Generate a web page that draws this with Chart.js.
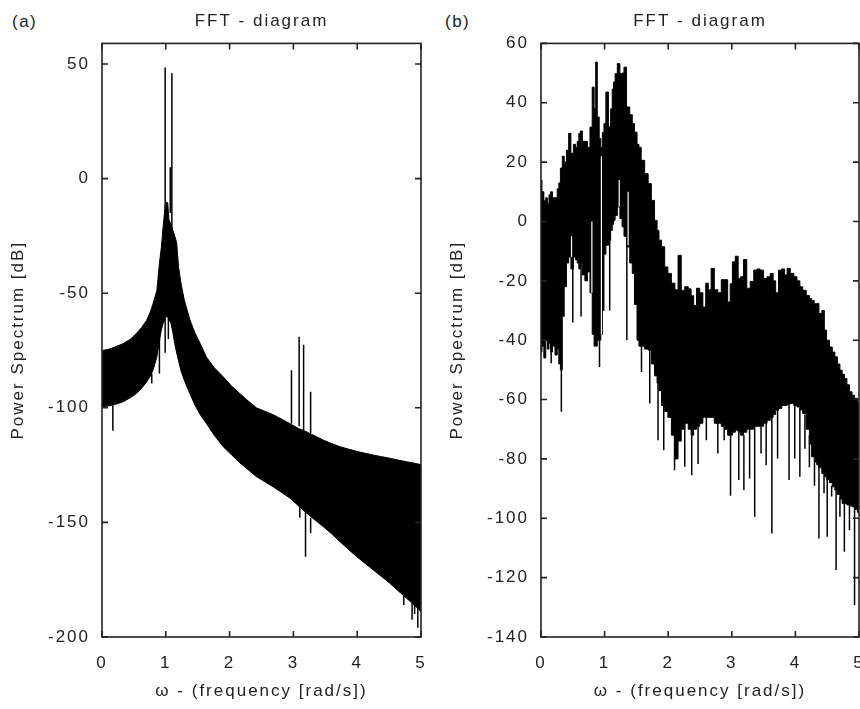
<!DOCTYPE html>
<html><head><meta charset="utf-8">
<script src="https://cdn.jsdelivr.net/npm/chart.js@4.4.1/dist/chart.umd.min.js"></script>
<style>
html,body{margin:0;padding:0;background:#fff;}
body{width:860px;height:709px;overflow:hidden;position:relative;}
canvas{position:absolute;top:0;}
.lbl{position:absolute;top:12px;font:17px "Liberation Sans",Arial,sans-serif;color:#222;letter-spacing:1.5px;line-height:20px;}
</style></head><body>
<div class="lbl" style="left:12px">(a)</div>
<div class="lbl" style="left:445px">(b)</div>
<canvas id="ca" width="430" height="709" style="left:0"></canvas>
<canvas id="cb" width="450" height="709" style="left:430px"></canvas>
<script>
// ---------- shared ----------
const xTicks = [0, 1, 2, 3, 4, 5];
const yTicksA = [-200, -150, -100, -50, 0, 50];
const yTicksB = [-140, -120, -100, -80, -60, -40, -20, 0, 20, 40, 60];

// ---------- panel (a) ----------
const freqA = [0, 0.1, 0.2, 0.33, 0.45, 0.54, 0.62, 0.7, 0.76, 0.8, 0.86, 0.9, 0.93, 0.96, 0.99, 1.01, 1.03, 1.05, 1.08, 1.11, 1.14, 1.17, 1.2, 1.24, 1.29, 1.38, 1.46, 1.54, 1.64, 1.76, 1.9, 2.03, 2.16, 2.29, 2.42, 2.55, 2.68, 2.82, 2.95, 3.08, 3.21, 3.34, 3.47, 3.6, 3.73, 3.86, 3.99, 4.12, 4.25, 4.38, 4.51, 4.64, 4.77, 4.9, 5.0];
const upperA = [-75, -74.5, -73.5, -72, -70, -67.5, -65, -61.8, -58, -54.6, -48.8, -37, -30, -20.5, -12, -10.3, -10.5, -18, -20, -22.6, -25, -28, -38.6, -46, -53, -61.8, -67.5, -72, -78, -82.5, -86.5, -90.5, -93.8, -97, -100, -101.5, -103, -105, -107, -109, -110.5, -112.3, -114.1, -115.6, -117, -118, -119, -119.8, -120.6, -121.3, -122, -122.8, -123.5, -124.2, -124.8];
const lowerA = [-99.6, -99.2, -98.6, -97.4, -95.5, -93.8, -91.5, -88.7, -86, -83.6, -77.8, -71, -66, -63, -61, -60, -60.5, -61.5, -63, -67, -72, -76, -79.5, -84, -88, -94, -99, -103, -107, -112, -117, -120.5, -124, -127, -130, -132.2, -134.4, -137, -139.5, -142.8, -146, -149, -151.9, -155, -158.4, -161.7, -164.9, -167.8, -170.7, -173.6, -176.5, -179.8, -183, -186.2, -189];
const spikeFreqA = [0.99, 1.095, 1.07, 0.17, 0.9, 0.78, 0.99, 1.04, 2.97, 3.09, 3.16, 3.27, 3.10, 3.19, 3.27, 4.73, 4.86, 4.95, 4.9];
const spikeFromA = [-20, -22, -15, -99, -70, -85, -60, -60, -107, -108, -110, -111, -140, -145, -148, -182, -185, -187, -186];
const spikeToA   = [48.5, 46, 5, -110, -85, -89.4, -76, -70, -83.6, -69, -72.5, -93, -148, -165, -154.7, -186, -192.5, -196, -190];

// ---------- panel (b) ----------
const freqB = [0.00, 0.03, 0.06, 0.09, 0.11, 0.14, 0.16, 0.20, 0.24, 0.27, 0.29, 0.32, 0.35, 0.38, 0.42, 0.45, 0.49, 0.53, 0.56, 0.58, 0.61, 0.63, 0.67, 0.71, 0.75, 0.79, 0.82, 0.85, 0.87, 0.90, 0.93, 0.95, 0.98, 1.00, 1.04, 1.08, 1.11, 1.13, 1.15, 1.18, 1.22, 1.26, 1.29, 1.32, 1.37, 1.42, 1.45, 1.49, 1.53, 1.55, 1.60, 1.66, 1.71, 1.76, 1.81, 1.84, 1.87, 1.92, 1.97, 2.02, 2.08, 2.13, 2.18, 2.23, 2.29, 2.34, 2.38, 2.42, 2.47, 2.52, 2.57, 2.61, 2.65, 2.70, 2.75, 2.81, 2.86, 2.91, 2.96, 2.99, 3.03, 3.08, 3.12, 3.16, 3.21, 3.26, 3.32, 3.37, 3.42, 3.47, 3.53, 3.58, 3.63, 3.67, 3.71, 3.76, 3.81, 3.85, 3.89, 3.95, 4.00, 4.05, 4.09, 4.14, 4.20, 4.24, 4.27, 4.32, 4.35, 4.39, 4.44, 4.47, 4.51, 4.56, 4.60, 4.64, 4.68, 4.72, 4.75, 4.79, 4.83, 4.87, 4.91, 4.95, 5.00];
const upperB = [14, 10, 7, 8, 6, 9, 10, 8, 8, 11, 13, 18, 22, 20, 24, 29.7, 23, 26, 25, 27, 29.7, 30.5, 27, 27, 25, 31.8, 45.3, 38, 53.7, 35.2, 28, 25, 30, 33, 43.6, 32, 38, 44.6, 47, 49.8, 53.2, 49.8, 50, 52, 38.6, 36, 33, 30.1, 26, 25, 20.6, 16.1, 12.8, 7.1, 0.4, -3, -6.3, -8.5, -15.3, -17.5, -20.8, -23, -11.4, -23.2, -22, -22.7, -25, -28.3, -22.5, -24, -28.8, -20.8, -23, -15.8, -23, -24, -19.6, -19.6, -27.1, -21, -13.6, -11.7, -19.2, -18.6, -12.8, -22.5, -20.2, -16.4, -16, -16.4, -19.2, -18.6, -17.5, -20, -24, -16.4, -16, -18, -15.8, -17.5, -18.6, -20, -22, -23.2, -24.9, -26, -26.6, -27.7, -27.6, -31, -30, -36.6, -40, -42.3, -44, -45.6, -48, -50.1, -51.5, -52.9, -55, -57.4, -58.5, -59.6, -60.8];
const lowerB = [-44, -42, -46, -40, -43, -41, -44, -42, -45, -43, -48, -50, -32, -22, -14, -12, -16, -12, -13, -14, -16, -14, -18, -20, -17, -24, -38, -42, -42, -40, -40, -38, -30, -11, -8, -6.3, -3, -1, 0.4, 2, 4.9, 1, -1.8, -5, -8.6, -14, -17.5, -28, -40, -42, -42, -43, -43.4, -48, -52, -54.5, -57, -62, -64, -66, -72, -80, -74, -70, -68, -70, -72, -70, -69, -68, -66, -66, -66, -66, -68, -68, -69, -70, -72, -72, -71, -70.3, -71, -72, -71, -70, -70, -69, -69, -69, -68, -67, -66, -65, -63.6, -63, -62, -62, -61.5, -61.3, -62, -62.5, -63.5, -64.7, -70, -75, -79.3, -81, -82, -83, -84.9, -86, -87, -88, -89.4, -90.5, -92, -93.5, -95, -95, -95.5, -95.8, -96.1, -97, -98];
const spikeFreqB = [0.16, 0.32, 0.50, 0.63, 0.92, 1.08, 1.35, 1.58, 1.71, 1.84, 1.93, 2.10, 2.26, 2.37, 2.47, 2.60, 2.78, 2.88, 2.98, 3.11, 3.19, 3.28, 3.36, 3.46, 3.54, 3.63, 3.72, 3.90, 3.99, 4.07, 4.15, 4.22, 4.30, 4.37, 4.45, 4.50, 4.57, 4.64, 4.70, 4.77, 4.85, 4.93];
const spikeFromB = [-44, -50, -16, -14, -40, -6, -8, -42, -43, -54, -62, -72, -68, -72, -69, -66, -68, -69, -72, -71, -72, -70, -69, -69, -68, -66, -63, -61, -62, -63, -65, -72, -81, -82, -85, -87, -89, -90, -93, -95, -95, -96];
const spikeToB   = [-47.8, -64.1, -34, -32, -49, -30, -40, -50.7, -61.3, -73.7, -77.1, -83.8, -82.6, -85.5, -81.7, -73.7, -78.2, -73.7, -92.4, -87.1, -90.5, -86.6, -99.5, -78.2, -82.1, -105.1, -79.9, -87.1, -79.9, -86, -76.6, -82.8, -89, -106.8, -91.6, -106.2, -92.7, -117.4, -99.5, -111.3, -104, -129.2];
const gapFreqB = [0.48, 0.80, 0.95, 1.23, 1.37];
const gapTopB  = [-5, 0, 22, 14, 10];
const gapBotB  = [-12, -24, -38, 5, -8];

// ---------- helpers ----------
const FONT = '"Liberation Sans", Arial, sans-serif';
const TXT = '#222';
function pts(xs, ys) { return xs.map((x, i) => ({ x: x, y: ys[i] })); }
function segs(xs, from, to) {
  const out = [];
  xs.forEach((x, i) => { out.push({ x: x, y: from[i] }, { x: x, y: to[i] }, { x: x, y: null }); });
  return out;
}
const spacingPlugin = {
  id: 'spacing',
  beforeUpdate(c) { c.ctx.letterSpacing = '2px'; },
  beforeDraw(c) { c.ctx.letterSpacing = '2px'; }
};
const framePlugin = {
  id: 'frame',
  afterDatasetsDraw(c) {
    const ctx = c.ctx, a = c.chartArea, sx = c.scales.x, sy = c.scales.y;
    ctx.save();
    ctx.strokeStyle = '#222';
    ctx.lineWidth = 1.6;
    ctx.beginPath();
    sx.ticks.forEach(t => {
      const p = sx.getPixelForValue(t.value);
      ctx.moveTo(p, a.bottom); ctx.lineTo(p, a.bottom - 6);
      ctx.moveTo(p, a.top); ctx.lineTo(p, a.top + 6);
    });
    sy.ticks.forEach(t => {
      const p = sy.getPixelForValue(t.value);
      ctx.moveTo(a.left, p); ctx.lineTo(a.left + 6, p);
      ctx.moveTo(a.right, p); ctx.lineTo(a.right - 6, p);
    });
    ctx.stroke();
    ctx.strokeRect(a.left, a.top, a.right - a.left, a.bottom - a.top);
    ctx.restore();
  }
};

function makeChart(id, cfg) {
  const datasets = [
    { data: segs(cfg.spF, cfg.spFrom, cfg.spTo), borderColor: '#000', borderWidth: 1.5, pointRadius: 0, fill: false, spanGaps: false, order: 0 },
    { data: pts(cfg.freq, cfg.upper), borderColor: '#000', borderWidth: 1, backgroundColor: '#000', pointRadius: 0, fill: '+1', stepped: cfg.stepped, order: 2 },
    { data: pts(cfg.freq, cfg.lower), borderColor: '#000', borderWidth: 1, pointRadius: 0, fill: false, stepped: cfg.stepped, order: 2 }
  ];
  if (cfg.gapF) {
    datasets.push({ data: segs(cfg.gapF, cfg.gapTop, cfg.gapBot), borderColor: '#fff', borderWidth: 1.2, pointRadius: 0, fill: false, spanGaps: false, order: 1 });
  }
  return new Chart(document.getElementById(id), {
    type: 'line',
    data: { datasets: datasets },
    plugins: [spacingPlugin, framePlugin],
    options: {
      responsive: false, animation: false, events: [],
      layout: { padding: { left: 0, right: cfg.padRight, top: 0, bottom: 0 } },
      plugins: {
        legend: { display: false }, tooltip: { enabled: false },
        title: { display: true, text: 'FFT - diagram', fullSize: false, color: TXT,
          font: { family: FONT, size: 17, weight: 'normal' }, padding: { top: 11, bottom: 12 } }
      },
      scales: {
        x: {
          type: 'linear', min: 0, max: 5,
          afterBuildTicks: s => { s.ticks = xTicks.map(v => ({ value: v })); },
          afterFit: s => { s.height = 72; s.paddingLeft = 0; s.paddingRight = 0; },
          grid: { display: false, drawTicks: false }, border: { display: false },
          ticks: { padding: 16, color: TXT, font: { family: FONT, size: 17 } },
          title: { display: true, text: 'ω - (frequency [rad/s])', color: TXT,
            font: { family: FONT, size: 17 }, padding: { top: 0, bottom: 7 } }
        },
        y: {
          type: 'linear', min: cfg.ymin, max: cfg.ymax,
          afterBuildTicks: s => { s.ticks = cfg.yTicks.map(v => ({ value: v })); },
          afterFit: s => { s.width = cfg.yWidth; s.paddingTop = 0; s.paddingBottom = 0; },
          grid: { display: false, drawTicks: false }, border: { display: false },
          ticks: { padding: 12, color: TXT, font: { family: FONT, size: 17 } },
          title: { display: true, text: 'Power Spectrum [dB]', color: TXT,
            font: { family: FONT, size: 17 }, padding: { top: cfg.yTitlePad, bottom: 0 } }
        }
      }
    }
  });
}

makeChart('ca', { freq: freqA, upper: upperA, lower: lowerA, spF: spikeFreqA, spFrom: spikeFromA, spTo: spikeToA,
  stepped: false, ymin: -200, ymax: 59, yTicks: yTicksA, yWidth: 102, padRight: 9, yTitlePad: 8 });
makeChart('cb', { freq: freqB, upper: upperB, lower: lowerB, spF: spikeFreqB, spFrom: spikeFromB, spTo: spikeToB,
  gapF: gapFreqB, gapTop: gapTopB, gapBot: gapBotB,
  stepped: 'middle', ymin: -140, ymax: 60, yTicks: yTicksB, yWidth: 111, padRight: 21, yTitlePad: 17 });
</script>
</body></html>
